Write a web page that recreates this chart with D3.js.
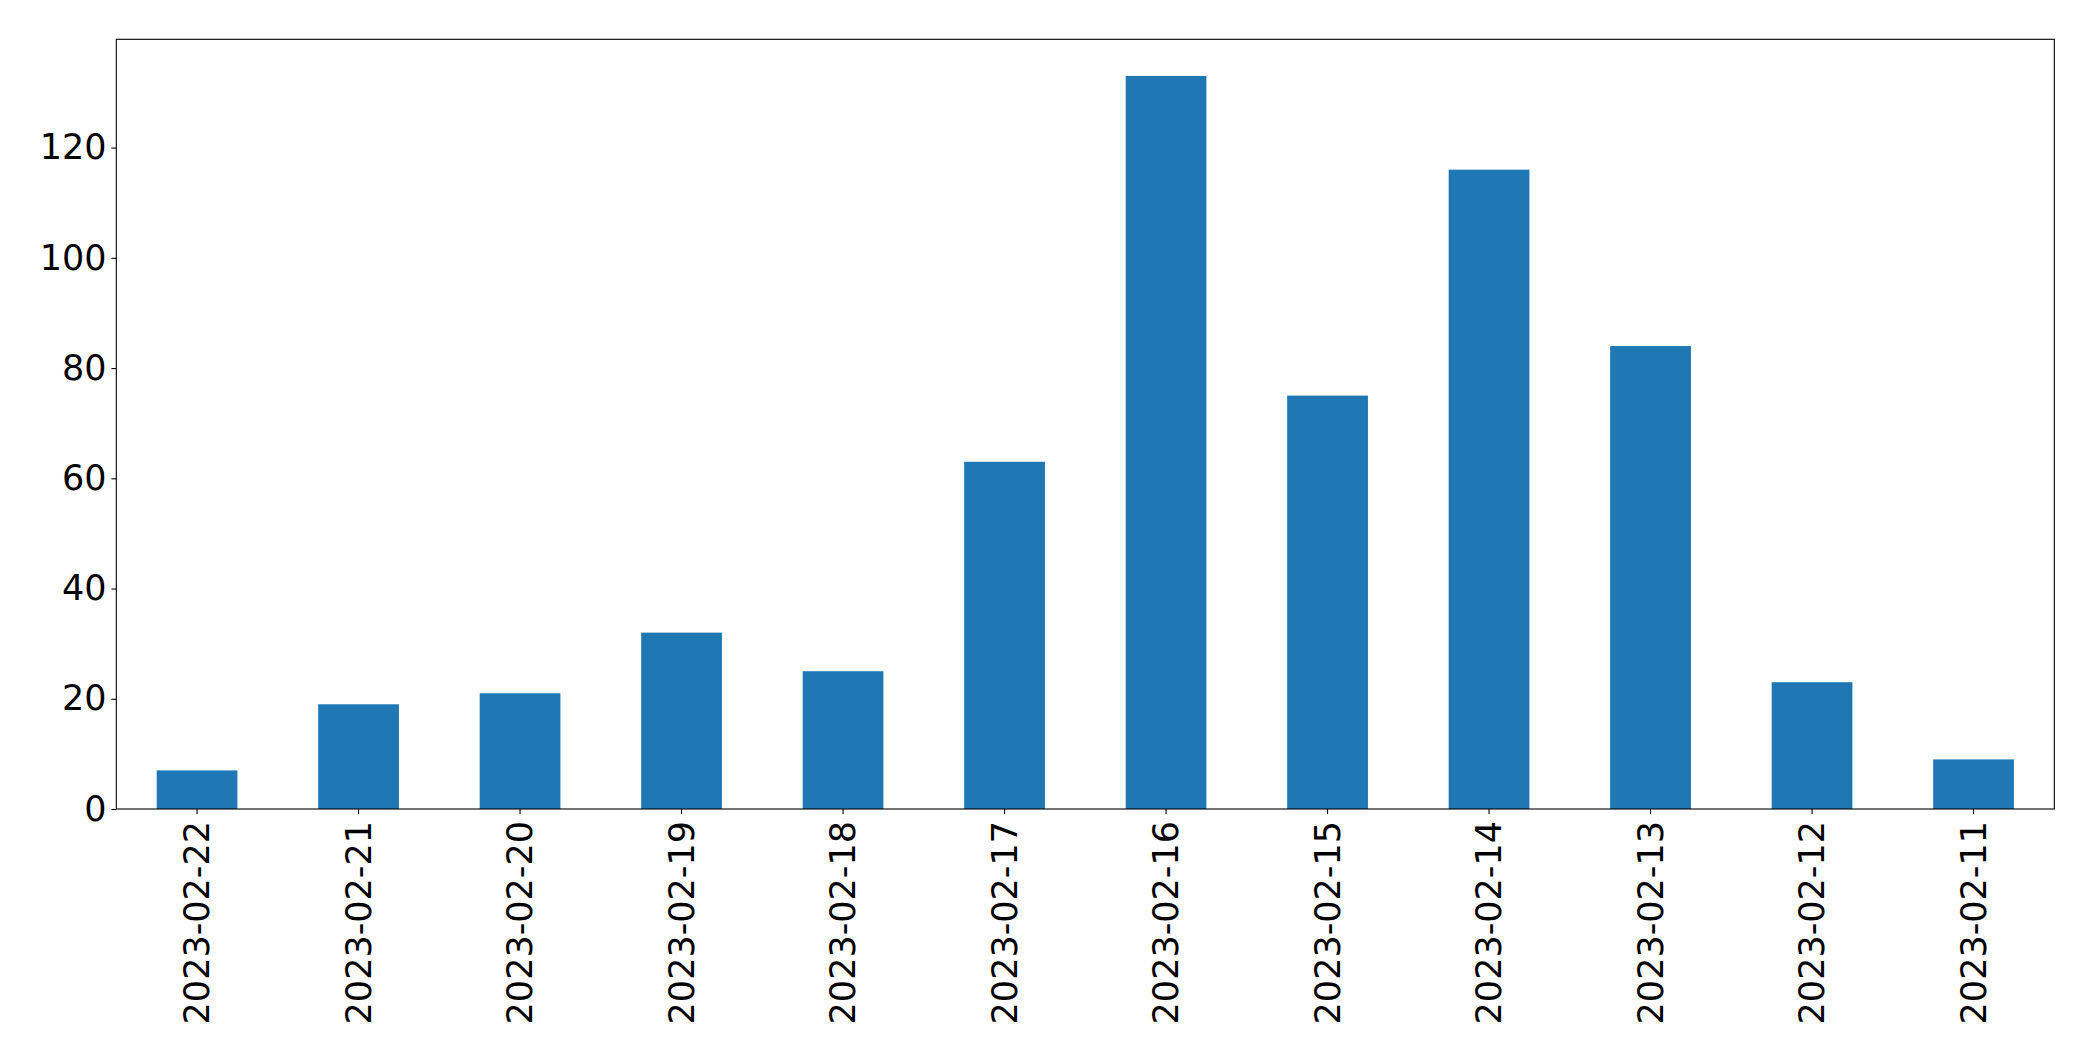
<!DOCTYPE html>
<html>
<head>
<meta charset="utf-8">
<script src="https://cdn.jsdelivr.net/npm/d3@7"></script>
<style>
  body { margin: 0; background: #fff; }
  text { font-family: "DejaVu Sans", sans-serif; }
</style>
</head>
<body>
<div id="canvas"></div>
<script>
const dates = ["2023-02-22", "2023-02-21", "2023-02-20", "2023-02-19", "2023-02-18", "2023-02-17",
               "2023-02-16", "2023-02-15", "2023-02-14", "2023-02-13", "2023-02-12", "2023-02-11"];
const counts = [7, 19, 21, 32, 25, 63, 133, 75, 116, 84, 23, 9];
const yTicks = [0, 20, 40, 60, 80, 100, 120];

const width = 2093;
const height = 1061;
const margin = { top: 39.3, left: 116.3, bottom: 252, right: 38.7 };
const iwidth = width - margin.left - margin.right;
const iheight = height - margin.top - margin.bottom;

const svg = d3.select("#canvas").append("svg")
  .attr("width", width)
  .attr("height", height);

const g = svg.append("g").attr("transform", `translate(${margin.left},${margin.top})`);

const x = d3.scaleBand()
  .domain(dates)
  .range([0, iwidth])
  .paddingInner(0.5)
  .paddingOuter(0.25);

const y = d3.scaleLinear()
  .domain([0, d3.max(counts) * 1.05])
  .range([iheight, 0]);

const data = dates.map((d, i) => ({ date: d, value: counts[i] }));

g.selectAll("rect.bar").data(data).enter().append("rect")
  .attr("class", "bar")
  .attr("x", d => x(d.date))
  .attr("width", x.bandwidth())
  .attr("y", d => y(d.value))
  .attr("height", d => iheight - y(d.value))
  .style("fill", "#1f77b4");

// axes
const xAxis = g.append("g")
  .attr("transform", `translate(0, ${iheight})`)
  .call(d3.axisBottom(x).tickSize(4.9).tickPadding(0));
xAxis.select(".domain").remove();
xAxis.selectAll("line").attr("stroke-width", 1.1);
xAxis.selectAll("text")
  .style("font-size", "35px")
  .attr("fill", "#000")
  .attr("transform", "translate(0, 12) rotate(-90)")
  .attr("text-anchor", "end")
  .attr("dy", "0.35em")
  .attr("x", 0)
  .attr("y", 0);

const yAxis = g.append("g")
  .call(d3.axisLeft(y).tickValues(yTicks).tickSize(4.9).tickPadding(4.9));
yAxis.select(".domain").remove();
yAxis.selectAll("line").attr("stroke-width", 1.1);
yAxis.selectAll("text")
  .style("font-size", "35px")
  .attr("fill", "#000");

// frame
g.append("rect")
  .attr("width", iwidth)
  .attr("height", iheight)
  .attr("fill", "none")
  .attr("stroke", "#000")
  .attr("stroke-width", 1.1);
</script>
</body>
</html>
